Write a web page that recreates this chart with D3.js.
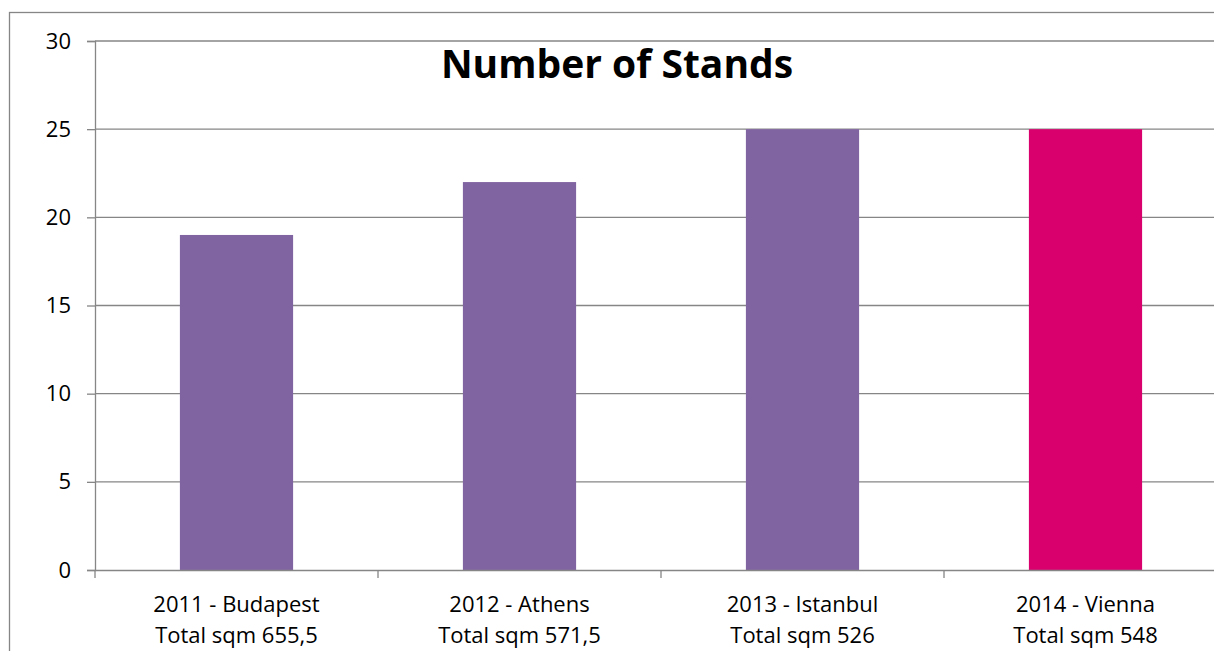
<!DOCTYPE html>
<html>
<head>
<meta charset="utf-8">
<script src="https://cdn.jsdelivr.net/npm/d3@7"></script>
<style>
  body { margin: 0; background: #fff; }
  svg { display: block; font-family: "Open Sans", sans-serif; }
</style>
</head>
<body>
<div class="chart"></div>
<script>
var years = ['2011 - Budapest', '2012 - Athens', '2013 - Istanbul', '2014 - Vienna'];
var sqmLabels = ['Total sqm 655,5', 'Total sqm 571,5', 'Total sqm 526', 'Total sqm 548'];
var stands = [19, 22, 25, 25];
var barColors = ['#8064a2', '#8064a2', '#8064a2', '#d9006e'];
var yTicks = [0, 5, 10, 15, 20, 25, 30];

var w = 1214, h = 651;
var plotLeft = 95, plotRight = 1227, plotTop = 41, plotBottom = 570;

var svg = d3.select('.chart').append('svg')
	.attr('width', w)
	.attr('height', h);

// outer chart frame
svg.append('rect')
	.attr('x', 9.5)
	.attr('y', 12.5)
	.attr('width', 1240)
	.attr('height', 700)
	.attr('fill', 'white')
	.attr('stroke', '#868686')
	.attr('stroke-width', 1.3);

var x = d3.scaleBand()
	.domain(d3.range(years.length))
	.range([plotLeft, plotRight])
	.paddingInner(0.6)
	.paddingOuter(0.3);

var xAxisScale = d3.scaleBand()
	.domain(d3.range(years.length))
	.range([plotLeft, plotRight]);

var y = d3.scaleLinear()
	.domain([0, 30])
	.range([plotBottom, plotTop]);

// gridlines
svg.append('g').selectAll('line').data(yTicks.slice(1))
	.enter().append('line')
	.attr('x1', plotLeft)
	.attr('x2', plotRight)
	.attr('y1', function(d) { return y(d); })
	.attr('y2', function(d) { return y(d); })
	.attr('stroke', '#868686')
	.attr('stroke-width', 1.3);

// bars
svg.append('g').selectAll('rect').data(stands)
	.enter().append('rect')
	.attr('x', function(d, i) { return x(i); })
	.attr('y', function(d) { return y(d); })
	.attr('width', x.bandwidth())
	.attr('height', function(d) { return y(0) - y(d); })
	.attr('fill', function(d, i) { return barColors[i]; });

// y axis
var yAxis = svg.append('g')
	.attr('transform', 'translate(' + plotLeft + ',0)')
	.call(d3.axisLeft(y).tickValues(yTicks).tickSize(8).tickPadding(16));

// x axis
var xAxis = svg.append('g')
	.attr('transform', 'translate(0,' + plotBottom + ')')
	.call(d3.axisBottom(xAxisScale).tickValues([]).tickSizeOuter(0));

xAxis.selectAll('.xt').data(d3.range(years.length + 1))
	.enter().append('line')
	.attr('x1', function(d) { return plotLeft + d * xAxisScale.step(); })
	.attr('x2', function(d) { return plotLeft + d * xAxisScale.step(); })
	.attr('y1', 0)
	.attr('y2', 8);

svg.selectAll('.domain, .tick line, g line')
	.attr('stroke', '#868686')
	.attr('stroke-width', 1.3);

yAxis.selectAll('text')
	.attr('font-size', 22)
	.attr('fill', '#000')
	.style('font-family', '"Open Sans", sans-serif');

// category labels, two lines
var labels = svg.append('g').selectAll('text').data(years)
	.enter().append('text')
	.attr('text-anchor', 'middle')
	.attr('font-size', 22)
	.attr('fill', '#000')
	.attr('x', function(d, i) { return xAxisScale(i) + xAxisScale.bandwidth() / 2; })
	.attr('y', 612);

labels.append('tspan').text(function(d) { return d; });
labels.append('tspan')
	.attr('x', function(d, i) { return xAxisScale(i) + xAxisScale.bandwidth() / 2; })
	.attr('dy', 31)
	.text(function(d, i) { return sqmLabels[i]; });

// title
svg.append('text')
	.attr('x', 617)
	.attr('y', 78)
	.attr('text-anchor', 'middle')
	.attr('font-size', 39)
	.attr('font-weight', 'bold')
	.attr('fill', '#000')
	.text('Number of Stands');
</script>
</body>
</html>
